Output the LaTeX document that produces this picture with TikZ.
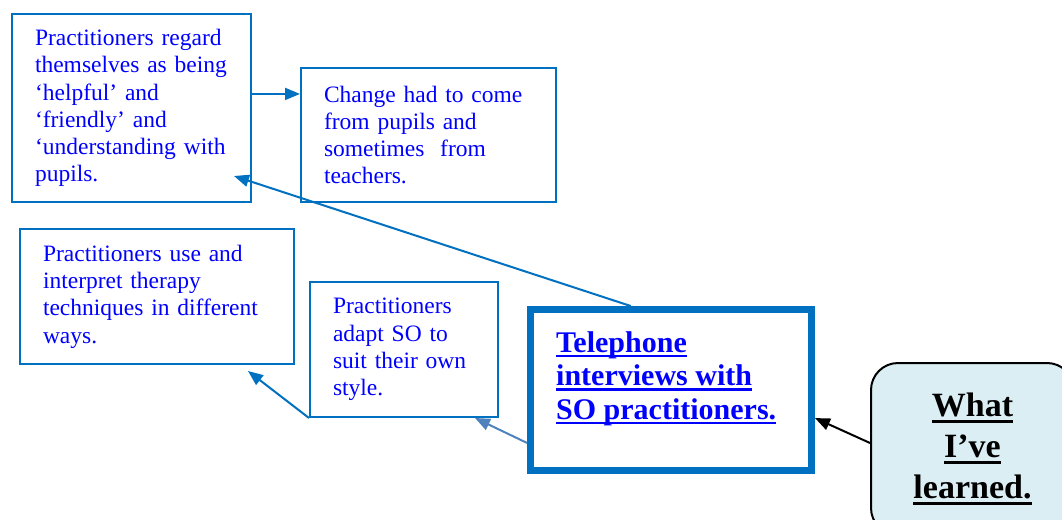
\documentclass[tikz,border=0pt]{standalone}
\usepackage{fontspec}
\setmainfont{Liberation Serif}
\usetikzlibrary{arrows.meta,calc}

\definecolor{boxblue}{HTML}{0070C0}
\definecolor{textblue}{HTML}{0000FF}
\definecolor{softblue}{HTML}{4F81BD}
\definecolor{paleblue}{HTML}{DAEEF3}

% underline at a fixed depth below the baseline: {depth}{thickness}{text}
\newcommand\fixedul[3]{\setbox0\hbox{#3}\rlap{\rule[-#1]{\wd0}{#2}}\box0}

\tikzset{
  notebox/.style 2 args={draw=boxblue, line width=2pt, fill=white,
    minimum width=#1, minimum height=#2, text width=#1-46pt,
    inner xsep=23pt, inner ysep=0pt, align=left, text=textblue,
    font=\fontsize{23.5}{27.3}\selectfont},
  arr/.style={draw=boxblue, line width=2pt, -{Triangle[length=15pt,width=12pt]}},
}

\begin{document}
\begin{tikzpicture}[x=1pt,y=-1pt]
  \useasboundingbox (0,0) rectangle (1062,519);
  \clip (0,0) rectangle (1062,519);

  % four note boxes on the left
  \node[notebox={239pt}{188pt}] (A) at (131.5,108)
    {Practitioners regard\\themselves as being\\‘helpful’ and\\‘friendly’ and\\‘understanding with\\pupils.};
  \node[notebox={255pt}{134pt}] (B) at (428.5,135)
    {Change had to come\\from pupils and\\sometimes\ \ from\\teachers.};
  \node[notebox={274pt}{135pt}] (C) at (157,296.5)
    {Practitioners use and\\interpret therapy\\techniques in different\\ways.};
  \node[notebox={188pt}{135pt}] (D) at (404,349.5)
    {Practitioners\\adapt SO to\\suit their own\\style.};

  % central thick box
  \node[draw=boxblue, line width=7pt, fill=white, minimum width=281pt,
        minimum height=161pt] (E) at (671,390) {};
  \node[anchor=north west, inner sep=0pt, align=left, text=textblue,
        font=\bfseries\fontsize{30}{33.5}\selectfont] (Etext) at (556,331)
    {\fixedul{5pt}{2.5pt}{Telephone}\\
     \fixedul{5pt}{2.5pt}{interviews with}\\
     \fixedul{5pt}{2.5pt}{SO practitioners.}};

  % rounded box on the right
  \node[draw=black, line width=2pt, fill=paleblue, rounded corners=27pt,
        minimum width=203pt, minimum height=172pt, align=center,
        font=\bfseries\fontsize{34}{41}\selectfont] (F) at (972.5,449)
    {\fixedul{6pt}{3pt}{What}\\
     \fixedul{6pt}{3pt}{I’ve}\\
     \fixedul{6pt}{3pt}{learned.}};

  % connectors
  \draw[arr] ($(A.north east)!0.426!(A.south east)$) coordinate (ab) -- (B.west |- ab);
  \draw[arr] ($(E.north west)!0.36!(E.north east)$) -- ([xshift=-18pt,yshift=27pt]A.south east);
  \draw[arr] (D.south west) -- ([xshift=-47pt,yshift=-6pt]C.south east);
  \draw[arr, draw=softblue] ($(E.south west)!0.185!(E.north west)$) -- ([xshift=-24pt]D.south east);
  \draw[arr, draw=black] ([yshift=6pt]F.west) -- ($(E.north east)!0.667!(E.south east)$);
\end{tikzpicture}
\end{document}
